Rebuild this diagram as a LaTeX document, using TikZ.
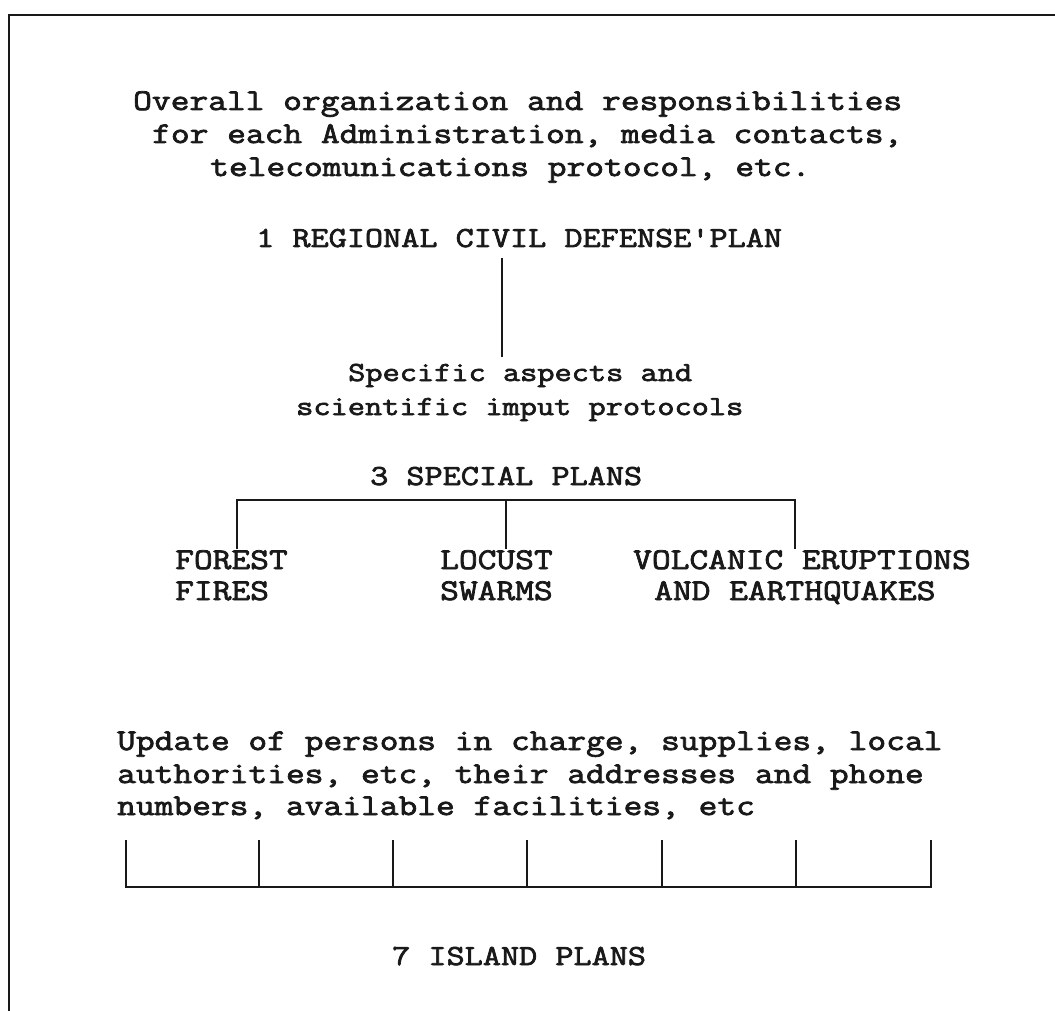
\documentclass[tikz,border=0pt]{standalone}
\usepackage{fontspec}
\newfontfamily\lmt[FakeStretch=1.21,FakeBold=2.5]{Latin Modern Mono}
\newcommand\twf[1]{\lmt\fontsize{#1}{#1}\selectfont}
\begin{document}
\begin{tikzpicture}[x=1pt,y=-1pt,
  txt/.style={inner sep=0pt,anchor=base west,text height=18pt,text depth=5pt,
    font=\twf{30.1},text=black!90},
  txtm/.style={txt,font=\twf{29.1}},
  txts/.style={txt,font=\twf{27.6}},
  ln/.style={line width=1.9pt,black!90}]
\useasboundingbox (0,0) rectangle (1055,1011);
% frame
\draw[ln] (1055,15) -- (9,15) -- (9,1011);
% top block
\node[txt] (t1) at (133,110) {Overall organization and responsibilities};
\node[txt] (t2) at (152,143) {for each Administration, media contacts,};
\node[txt] (t3) at (210,176) {telecomunications protocol, etc.};
\node[txtm] (reg) at (256,247) {1 REGIONAL CIVIL DEFENSE\rlap{'}\ PLAN};
\coordinate (rtop) at (502,258);
\coordinate (rbot) at (502,357);
\draw[ln] (rtop) -- (rbot);
\node[txts] (s1) at (348,381) {Specific aspects and};
\node[txts] (s2) at (296,415) {scientific imput protocols};
\node[txtm] (sp) at (370,485) {3 SPECIAL PLANS};
% bracket
\coordinate (b1) at (237,500);
\coordinate (b2) at (506,500);
\coordinate (b3) at (795,500);
\draw[ln] (237,549) -- (b1) -- (b3) -- (795,549);
\draw[ln] (b2) -- (506,549);
\node[txt] (f1) at (175,569) {FOREST};
\node[txt] (f2) at (175,600) {FIRES};
\node[txt] (l1) at (440,569) {LOCUST};
\node[txt] (l2) at (440,600) {SWARMS};
\node[txt] (v1) at (633,569) {VOLCANIC ERUPTIONS};
\node[txt] (v2) at (654,600) {AND EARTHQUAKES};
% update block
\node[txt] (u1) at (117,750) {Update of persons in charge, supplies, local};
\node[txt] (u2) at (117,783) {authorities, etc, their addresses and phone};
\node[txt] (u3) at (117,815) {numbers, available facilities, etc};
% island boxes
\draw[ln] (126,840) -- (126,887) -- (931,887) -- (931,840);
\foreach \xx in {259,393,527,662,796}{\draw[ln] (\xx,840) -- (\xx,887);}
\node[txtm] (ip) at (392,965) {7 ISLAND PLANS};
\end{tikzpicture}
\end{document}
